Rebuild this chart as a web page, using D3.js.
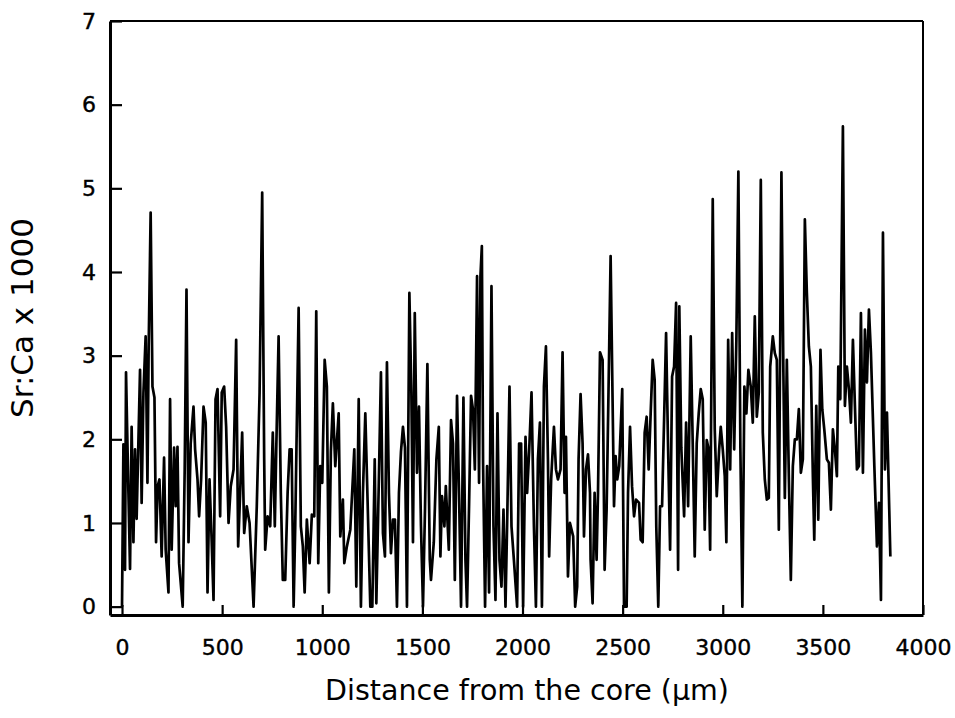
<!DOCTYPE html>
<html>
<head>
<meta charset="utf-8">
<script src="https://cdn.jsdelivr.net/npm/d3@7"></script>
<style>
  body { margin: 0; background: #fff; }
  text { font-family: "DejaVu Sans", Verdana, sans-serif; fill: #000; }
</style>
</head>
<body>
<svg id="chart" width="955" height="718"></svg>
<script>
// distance from the core (µm)
var distance = [
  0, 7, 15, 20, 32, 40, 48, 57, 65, 73, 90, 98, 107, 118, 127, 133, 143, 152, 162, 170,
  178, 187, 198, 210, 218, 232, 240, 248, 260, 268, 277, 285, 303, 313, 322, 332, 343, 357, 365, 377,
  385, 395, 407, 418, 427, 437, 447, 457, 467, 477, 490, 498, 510, 520, 532, 543, 557, 570, 580, 590,
  600, 610, 623, 637, 657, 673, 687, 700, 710, 715, 727, 740,
  753, 763, 770, 782, 793, 803, 815, 827, 837, 847, 857, 865, 882, 893, 903, 912, 923, 937, 948, 960,
  970, 980, 990, 1000, 1012, 1023, 1033, 1043, 1053, 1065, 1082, 1090, 1103, 1110, 1123, 1140, 1160, 1170, 1182, 1193,
  1203, 1215, 1227, 1240, 1250, 1262, 1270, 1282, 1293, 1303, 1313, 1323, 1333, 1343, 1353, 1363, 1373, 1383, 1393, 1403,
  1413, 1423, 1435, 1445, 1453, 1462, 1473, 1483, 1493, 1503, 1513, 1525, 1537,
  1543, 1557, 1570, 1582, 1590, 1598, 1610, 1617, 1632, 1643, 1653, 1662, 1673, 1683, 1693, 1705, 1715, 1723, 1733, 1743,
  1753, 1762, 1773, 1783, 1790, 1797, 1803, 1813, 1823, 1833, 1845, 1855, 1865, 1875, 1885, 1895, 1905, 1915, 1923, 1935,
  1945, 1957, 1973, 1983, 1993, 2003, 2015, 2023, 2033, 2045, 2057, 2067, 2077, 2087, 2097, 2107, 2117, 2127, 2133, 2143,
  2157, 2167, 2177, 2190, 2200, 2210, 2217, 2227, 2237, 2253, 2263, 2273, 2280, 2290, 2300, 2307, 2317, 2327, 2337,
  2340, 2350, 2360, 2370, 2377, 2387, 2400, 2410, 2420, 2428, 2440, 2450, 2457, 2465, 2473, 2483, 2498, 2507, 2520, 2527,
  2537, 2547, 2557, 2567, 2582, 2590, 2600, 2610, 2620, 2630, 2640, 2650, 2660, 2668, 2678, 2687, 2697, 2707, 2717, 2727,
  2737, 2747, 2757, 2767, 2777, 2783, 2793, 2807, 2817, 2827, 2840, 2850, 2860, 2870, 2880, 2890, 2900, 2910, 2920, 2928,
  2937, 2950, 2960, 2970, 2982, 2990, 3000, 3010, 3018, 3027, 3037, 3047, 3057, 3068, 3078, 3088, 3098, 3108, 3118, 3128, 3140,
  3150, 3160, 3170, 3180, 3190, 3200, 3210, 3220, 3230, 3237, 3250, 3260, 3270, 3280, 3293, 3303, 3310, 3320, 3330, 3340,
  3350, 3360, 3370, 3380, 3390, 3400, 3410, 3420, 3430, 3440, 3450, 3457, 3467, 3477, 3488, 3497, 3507, 3520, 3530, 3540,
  3550, 3560, 3570, 3577, 3587, 3600, 3610, 3620, 3630, 3640, 3650, 3660, 3670, 3680, 3690, 3700, 3710, 3720, 3730, 3740,
  3757, 3770, 3780, 3790, 3800, 3810, 3820, 3837
];

// Sr:Ca x 1000
var srca = [
  0, 1.94, 0.44, 2.8, 1.36, 0.45, 2.15, 0.77, 1.88, 1.05, 2.83, 1.24, 2.56, 3.23, 1.48, 3.1, 4.71, 2.63, 2.5, 0.77,
  1.44, 1.52, 0.6, 1.78, 0.68, 0.17, 2.48, 0.68, 1.9, 1.2, 1.91, 0.52, 0, 1.64, 3.79, 0.77, 1.95, 2.39, 1.88, 1.52,
  1.08, 1.52, 2.39, 2.2, 0.17, 1.52, 0.84, 0.08, 2.48, 2.6, 1.08, 2.56, 2.63, 2.15, 1.0, 1.44, 1.64, 3.19, 0.72, 1.36,
  2.08, 0.88, 1.2, 1.0, 0, 1.2, 2.56, 4.95, 1.76, 0.68, 1.08, 0.96,
  2.08, 0.96, 1.85, 3.23, 1.36, 0.32, 0.32, 1.36, 1.88, 1.88, 0, 0.96, 3.57, 0.96, 0.72, 0.17, 1.04, 0.52, 1.1, 1.08,
  3.53, 0.52, 1.68, 1.48, 2.95, 2.63, 0.17, 1.85, 2.43, 1.68, 2.31, 0.84, 1.28, 0.52, 0.72, 0.92, 1.88, 0.24, 2.48, 0,
  1.36, 2.31, 1.2, 0, 0, 1.76, 0.04, 1.44, 2.8, 0.88, 0.6, 2.92, 1.36, 0.64, 1.04, 1.04, 0, 1.36, 1.85, 2.15,
  1.9, 0, 3.75, 2.56, 0.77, 3.51, 1.6, 2.39, 0.96, 0, 1.16, 2.9, 0.56,
  0.32, 0.77, 1.76, 2.15, 0.6, 1.32, 0.96, 1.44, 0.68, 2.23, 1.95, 0.32, 2.52, 1.36, 0, 2.5, 0.56, 0, 1.2, 2.52,
  2.35, 1.64, 3.95, 1.48, 3.95, 4.31, 1.72, 0, 1.68, 0.17, 3.83, 0.96, 0.08, 2.31, 0.56, 0.24, 1.16, 0, 0.96, 2.63,
  0.96, 0.56, 0, 1.95, 1.95, 0, 2.03, 1.36, 1.85, 2.56, 0.96, 0, 1.76, 2.2, 0, 2.63, 3.11, 1.76, 0.6, 1.52,
  2.15, 1.64, 1.52, 1.64, 3.04, 1.36, 2.03, 0.36, 1.0, 0.84, 0, 0.24, 1.76, 2.54, 1.95, 0.84, 1.64, 1.82, 1.36,
  0.56, 0.04, 1.36, 0.56, 1.36, 3.04, 2.95, 0.44, 1.16, 2.35, 4.19, 2.43, 1.2, 1.8, 1.52, 1.68, 2.6, 0, 0, 1.36,
  2.15, 1.44, 1.08, 1.28, 1.24, 0.8, 0.77, 2.08, 2.27, 1.64, 2.31, 2.95, 2.71, 0.96, 0, 1.2, 1.2, 2.23, 3.27, 1.9,
  0.68, 2.75, 2.87, 3.63, 0.44, 3.59, 1.9, 1.08, 2.2, 1.2, 3.23, 1.95, 0.6, 1.95, 2.31, 2.6, 2.48, 0.92, 1.99, 1.9,
  0.68, 4.87, 2.12, 1.32, 1.88, 2.15, 1.88, 1.56, 0.77, 3.19, 1.64, 3.27, 1.88, 3.19, 5.2, 1.9, 0, 2.63, 2.31, 2.83, 2.63,
  2.2, 3.47, 2.27, 2.56, 5.1, 2.08, 1.52, 1.28, 1.3, 2.87, 3.23, 3.03, 2.95, 0.92, 5.19, 2.76, 1.3, 2.95, 1.56, 0.32,
  1.68, 2.0, 2.0, 2.36, 1.6, 1.76, 4.63, 3.75, 3.11, 2.87, 1.56, 0.8, 2.4, 1.04, 3.07, 2.36, 2.12, 1.76, 1.72, 1.16,
  2.12, 1.88, 1.56, 2.87, 2.48, 5.74, 2.4, 2.87, 2.6, 2.2, 3.19, 2.4, 1.64, 1.68, 3.51, 1.6, 3.31, 2.68, 3.55, 3.03,
  1.68, 0.72, 1.24, 0.08, 4.47, 1.64, 2.32, 0.6
];

var xTicks = [0, 500, 1000, 1500, 2000, 2500, 3000, 3500, 4000];
var yTicks = [0, 1, 2, 3, 4, 5, 6, 7];

(function() {

  var svg = d3.select('#chart');

  var plotLeft = 110, plotRight = 923, plotTop = 21, plotBottom = 615;

  var x = d3.scaleLinear().domain([-60, 4000]).range([plotLeft, plotRight]);
  var y = d3.scaleLinear().domain([-0.1, 7]).range([plotBottom, plotTop]);

  var points = distance.map(function(d, i) { return [d, srca[i]]; });

  // the series
  svg.append('path')
    .datum(points)
    .attr('fill', 'none')
    .attr('stroke', '#000')
    .attr('stroke-width', 2.7)
    .attr('stroke-linejoin', 'round')
    .attr('d', d3.line().x(function(d) { return x(d[0]); }).y(function(d) { return y(d[1]); }));

  // frame top and right
  svg.append('line').attr('x1', plotLeft).attr('x2', plotRight).attr('y1', plotTop).attr('y2', plotTop)
    .attr('stroke', '#000').attr('stroke-width', 2);
  svg.append('line').attr('x1', plotRight).attr('x2', plotRight).attr('y1', plotTop).attr('y2', plotBottom)
    .attr('stroke', '#000').attr('stroke-width', 2);

  // axes, ticks pointing inward
  var xAxis = svg.append('g')
    .attr('transform', 'translate(0,' + plotBottom + ')')
    .call(d3.axisBottom(x).tickValues(xTicks).tickFormat(d3.format('d'))
      .tickSizeInner(-10).tickSizeOuter(0).tickPadding(24));
  var yAxis = svg.append('g')
    .attr('transform', 'translate(' + plotLeft + ',0)')
    .call(d3.axisLeft(y).tickValues(yTicks).tickFormat(d3.format('d'))
      .tickSizeInner(-12).tickSizeOuter(0).tickPadding(14));

  [xAxis, yAxis].forEach(function(g) {
    g.select('.domain').attr('stroke', '#000').attr('stroke-width', 3);
    g.selectAll('.tick line').attr('stroke', '#000').attr('stroke-width', 2.2);
    g.selectAll('.tick text').attr('font-size', 22)
      .attr('font-family', '"DejaVu Sans", Verdana, sans-serif').attr('fill', '#000')
      .attr('stroke', '#000').attr('stroke-width', 0.4);
  });

  // axis titles
  svg.append('text')
    .attr('x', 527)
    .attr('y', 700)
    .attr('text-anchor', 'middle')
    .attr('font-size', 28.5)
    .text('Distance from the core (\u03bcm)');

  svg.append('text')
    .attr('transform', 'translate(33,318) rotate(-90)')
    .attr('text-anchor', 'middle')
    .attr('font-size', 31)
    .text('Sr:Ca x 1000');

})();
</script>
</body>
</html>
